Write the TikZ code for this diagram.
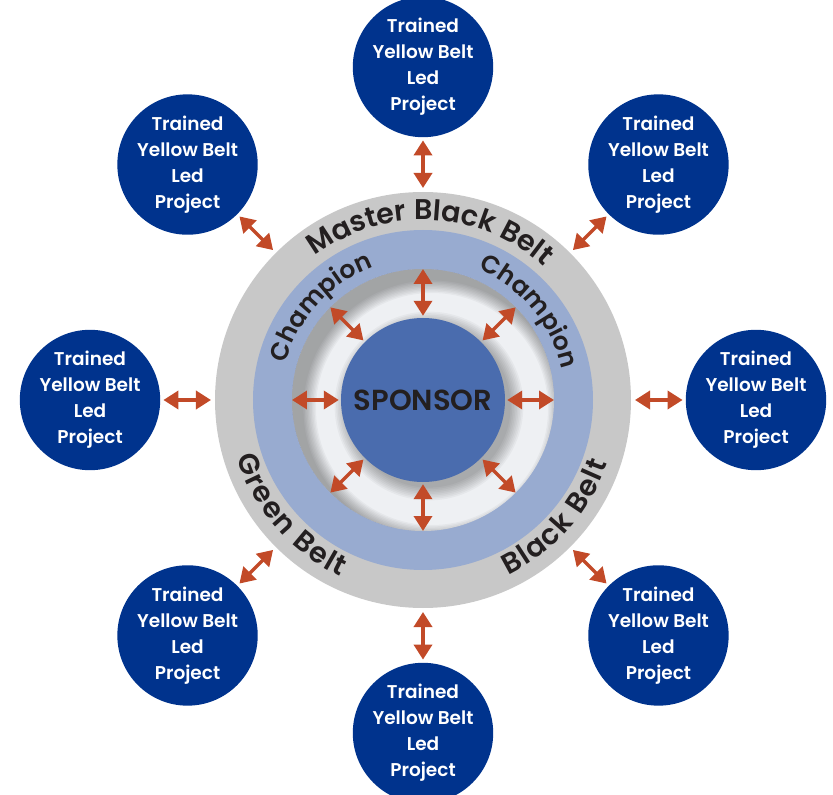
\documentclass[tikz,border=0pt]{standalone}
\usepackage{fontspec}
\setmainfont{Poppins}[BoldFont={Poppins SemiBold}]
\usetikzlibrary{arrows.meta,decorations.text}
\definecolor{navy}{HTML}{00338D}
\definecolor{sponsorblue}{HTML}{4A6CAE}
\definecolor{ringblue}{HTML}{98ABD0}
\definecolor{ringgray}{HTML}{C8C8C8}
\definecolor{arrowred}{HTML}{C24A28}
\definecolor{ink}{HTML}{231F20}
\definecolor{palewhite}{HTML}{EEF0F3}
\def\beltfont{\bfseries\fontsize{28.5}{32}\selectfont}
\def\champfont{\bfseries\fontsize{25}{28}\selectfont}
\tikzset{
	proj/.style={circle, fill=navy, minimum size=131pt, inner sep=0pt, text=white, align=center, font=\bfseries\fontsize{18.5}{26}\selectfont},
	link/.style={line width=3.5pt, draw=arrowred, {Triangle[length=15pt,width=18pt]}-{Triangle[length=15pt,width=18pt]}},
	belttext/.style={decorate, decoration={text along path, text align={fit to path}, text color=ink, text={#1}}},
	haze/.style={black, opacity=0.035}
}

\begin{document}
\begin{tikzpicture}[x=1pt,y=1pt]
			%%%%% START %%%%%
			\useasboundingbox (-423,-395) rectangle (410,400);
			
			% rings
			\fill[ringgray] (0,0) circle (208);
			\fill[ringblue] (0,0) circle (170);
			\fill[palewhite] (0,0) circle (131);
			\begin{scope}
				\clip (0,0) circle (131);
				\foreach \i in {1,...,10}
					\fill[haze, even odd rule] (-140,-140) rectangle (140,140) (9,-9) circle ({130-1.4*\i});
				\foreach \i in {1,...,9}
					\fill[haze] (6,-6) circle ({80+1.6*\i});
			\end{scope}
			\node[circle, fill=sponsorblue, minimum size=164pt, inner sep=0pt, text=ink, font=\bfseries\fontsize{29}{32}\selectfont] (sponsor) at (0,0) {SPONSOR};
			
			% ring labels
			\path[belttext={|\beltfont|Master Black Belt}] (127:180) arc (127:48:180);
			\path[belttext={|\beltfont|Green Belt}] (197:195) arc (197:245:195);
			\path[belttext={|\beltfont|Black Belt}] (296:195) arc (296:341:195);
			\path[belttext={|\champfont|Champion}] (165:142) arc (165:113:142);
			\path[belttext={|\champfont|Champion}] (67:142) arc (67:15:142);
			
			% projects and arrows
			\foreach \ang/\nm in {90/n,45/ne,0/e,-45/se,-90/s,-135/sw,180/w,135/nw}{
				\node[proj] (p\nm) at (\ang:333) {Trained\\Yellow Belt\\Led\\Project};
				\coordinate (rim\nm) at (\ang:212);
				\coordinate (hole\nm) at (\ang:131);
				\draw[link, shorten <=3pt] (p\nm) -- (rim\nm);
				\draw[link, shorten <=2pt] (sponsor) -- (hole\nm);
			}
			%%%%% END %%%%%
\end{tikzpicture}
\end{document}
